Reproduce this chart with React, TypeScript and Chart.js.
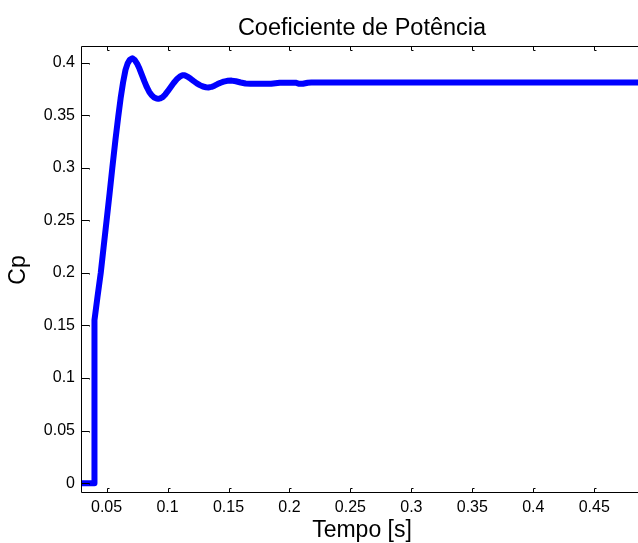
import React, { useEffect, useRef } from "react";
import { Chart, registerables } from "chart.js";

Chart.register(...registerables);

// Power-coefficient step response: time [s] and Cp
const tempo = [
  0.029, 0.0397, 0.0397, 0.0404, 0.0425, 0.0452, 0.0475, 0.05, 0.0525, 0.0547,
  0.0572, 0.0595, 0.0615, 0.0635, 0.0655, 0.0672, 0.069, 0.0711, 0.073, 0.075,
  0.077, 0.079, 0.081, 0.083, 0.085, 0.087, 0.089, 0.091, 0.0925, 0.094,
  0.096, 0.098, 0.1, 0.1025, 0.105, 0.1075, 0.11, 0.112, 0.114, 0.1165,
  0.119, 0.1215, 0.124, 0.1265, 0.129, 0.1315, 0.1335, 0.136, 0.1385, 0.141,
  0.1435, 0.146, 0.149, 0.1525, 0.156, 0.16, 0.164, 0.168, 0.175, 0.185,
  0.192, 0.205, 0.208, 0.211, 0.215, 0.218, 0.3, 0.4, 0.49,
];
const cp = [
  0, 0, 0.149, 0.155, 0.177, 0.2, 0.224, 0.25, 0.276, 0.3,
  0.326, 0.348, 0.366, 0.381, 0.393, 0.399, 0.4025, 0.404, 0.4025, 0.399,
  0.394, 0.388, 0.382, 0.3765, 0.372, 0.3688, 0.3668, 0.3658, 0.3655, 0.3659,
  0.3672, 0.3695, 0.3725, 0.3765, 0.3805, 0.384, 0.3865, 0.3878, 0.3878, 0.3865,
  0.3845, 0.3823, 0.3802, 0.3785, 0.3772, 0.3765, 0.3763, 0.3768, 0.378, 0.3795,
  0.3808, 0.3818, 0.3826, 0.3828, 0.3822, 0.381, 0.38, 0.3797, 0.3797, 0.3798,
  0.3808, 0.3808, 0.3798, 0.3798, 0.3808, 0.381, 0.381, 0.381, 0.381,
];

const xTicks = [0.05, 0.1, 0.15, 0.2, 0.25, 0.3, 0.35, 0.4, 0.45];
const yTicks = [0, 0.05, 0.1, 0.15, 0.2, 0.25, 0.3, 0.35, 0.4];
const xRange = [0.029, 0.49];
const yRange = [-0.0083, 0.4157];

const titulo = "Coeficiente de Potência";
const rotuloX = "Tempo [s]";
const rotuloY = "Cp";

const FONT = '"Liberation Sans", Arial, Helvetica, sans-serif';

// Axes box with inward tick marks, plus title and axis labels
const axesBox = {
  id: "axesBox",
  afterDraw(chart: any) {
    const { ctx, chartArea: a, scales } = chart;
    const xs = scales.x;
    const ys = scales.y;
    ctx.save();
    ctx.strokeStyle = "#000";
    ctx.lineWidth = 1;
    const L = Math.round(a.left) + 0.5;
    const R = Math.round(a.right) - 0.5;
    const T = Math.round(a.top) + 0.5;
    const B = Math.round(a.bottom) + 0.5;
    ctx.beginPath();
    ctx.moveTo(L, T);
    ctx.lineTo(R, T);
    ctx.lineTo(R, B);
    ctx.lineTo(L, B);
    ctx.closePath();
    ctx.stroke();

    ctx.beginPath();
    for (const v of xTicks) {
      const px = Math.round(xs.getPixelForValue(v)) + 0.5;
      ctx.moveTo(px, B);
      ctx.lineTo(px, B - 4);
      ctx.lineTo(px + 2, B - 4);
      ctx.moveTo(px, T);
      ctx.lineTo(px, T + 4);
      ctx.lineTo(px + 2, T + 4);
    }
    for (const v of yTicks) {
      const py = Math.round(ys.getPixelForValue(v)) + 0.5;
      ctx.moveTo(L, py);
      ctx.lineTo(L + 8, py);
      ctx.lineTo(L + 8, py + 1);
    }
    ctx.stroke();

    const cx = (a.left + a.right) / 2;
    const cy = (a.top + a.bottom) / 2;
    ctx.fillStyle = "#000";
    ctx.textAlign = "center";
    ctx.textBaseline = "middle";
    ctx.font = `23.5px ${FONT}`;
    ctx.fillText(titulo, cx, 29);
    ctx.font = `23px ${FONT}`;
    ctx.fillText(rotuloX, cx, 531);
    ctx.translate(19, cy + 1);
    ctx.rotate(-Math.PI / 2);
    ctx.fillText(rotuloY, 0, 0);
    ctx.restore();
  },
};

export default function App() {
  const ref = useRef<HTMLCanvasElement | null>(null);

  useEffect(() => {
    const canvas = ref.current;
    if (!canvas) return;
    const points = tempo.map((t, i) => ({ x: t, y: cp[i] }));
    const chart = new Chart(canvas, {
      type: "scatter",
      data: {
        datasets: [
          {
            data: points,
            showLine: true,
            borderColor: "#0000ff",
            backgroundColor: "#0000ff",
            borderWidth: 6,
            pointRadius: 0,
            tension: 0,
            borderJoinStyle: "round",
            borderCapStyle: "butt",
          },
        ],
      },
      plugins: [axesBox],
      options: {
        responsive: false,
        animation: false,
        devicePixelRatio: 1,
        layout: { padding: { top: 46, left: 0, right: 0, bottom: 0 } },
        plugins: {
          legend: { display: false },
          title: { display: false },
          tooltip: { enabled: false },
        },
        scales: {
          x: {
            type: "linear",
            min: xRange[0],
            max: xRange[1],
            grid: { display: false, drawTicks: false },
            border: { display: false },
            afterBuildTicks: (s: any) => {
              s.ticks = xTicks.map((v) => ({ value: v }));
            },
            afterFit: (s: any) => {
              s.height = 51;
            },
            ticks: {
              autoSkip: false,
              maxRotation: 0,
              padding: 6,
              color: "#000",
              font: { family: FONT, size: 16 },
              callback: (v: any) => String(Number(v)),
            },
          },
          y: {
            type: "linear",
            min: yRange[0],
            max: yRange[1],
            grid: { display: false, drawTicks: false },
            border: { display: false },
            afterBuildTicks: (s: any) => {
              s.ticks = yTicks.map((v) => ({ value: v }));
            },
            afterFit: (s: any) => {
              s.width = 81;
            },
            ticks: {
              autoSkip: false,
              padding: 6,
              color: "#000",
              font: { family: FONT, size: 16 },
              callback: (v: any) => String(Number(v)),
            },
          },
        },
      },
    });
    return () => chart.destroy();
  }, []);

  return (
    <div
      style={{
        position: "fixed",
        left: 0,
        top: 0,
        width: 638,
        height: 543,
        overflow: "hidden",
        background: "#fff",
      }}
    >
      <canvas ref={ref} width={643} height={543} style={{ width: 643, height: 543, display: "block" }} />
    </div>
  );
}
